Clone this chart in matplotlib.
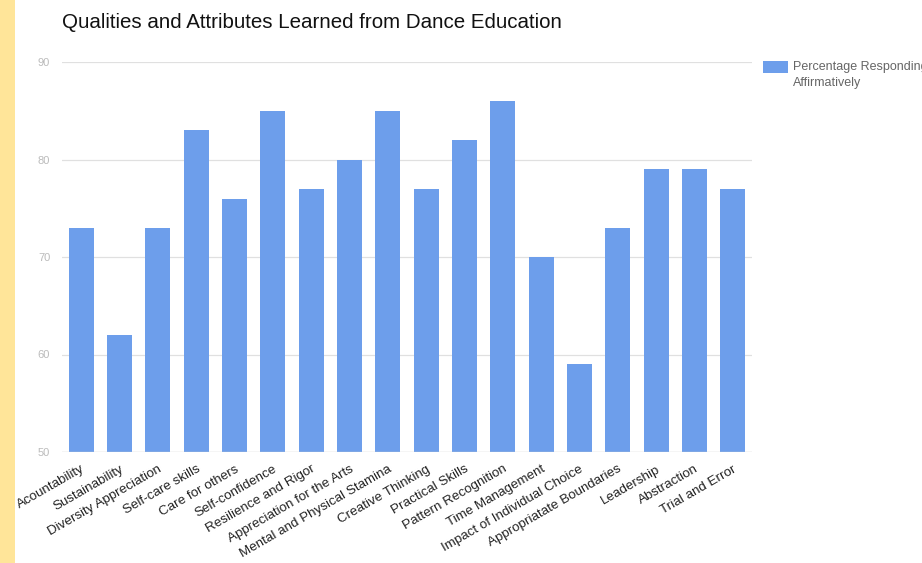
import matplotlib
matplotlib.use("Agg")
import matplotlib.pyplot as plt
from matplotlib.patches import Rectangle

categories = ["Acountability", "Sustainability", "Diversity Appreciation", "Self-care skills",
              "Care for others", "Self-confidence", "Resilience and Rigor",
              "Appreciation for the Arts", "Mental and Physical Stamina", "Creative Thinking",
              "Practical Skills", "Pattern Recognition", "Time Management",
              "Impact of Individual Choice", "Appropriatate Boundaries", "Leadership",
              "Abstraction", "Trial and Error"]
values = [73, 62, 73, 83, 76, 85, 77, 80, 85, 77, 82, 86, 70, 59, 73, 79, 79, 77]
yticks = [50, 60, 70, 80, 90]
series_name = "Percentage Responding\nAffirmatively"

plt.rcParams['font.family'] = ['Liberation Sans', 'DejaVu Sans']
W, H = 922, 563
fig = plt.figure(figsize=(W/100, H/100), dpi=100)
fig.patches.append(Rectangle((0, 0), 15/W, 1, transform=fig.transFigure,
                             facecolor='#FFE599', edgecolor='none', zorder=0))

ax = fig.add_axes([62/W, 1-452/H, 690/W, 390/H])
x = list(range(len(categories)))
ax.bar(x, values, width=0.65, color='#6D9EEB', zorder=3, label=series_name)
ax.set_xlim(-0.5, len(categories)-0.5)
ax.set_ylim(50, 90)
ax.set_yticks(yticks)
ax.set_yticklabels([str(v) for v in yticks], color='#BBBBBB', fontsize=8)
for v in yticks[1:]:
    ax.axhline(v, color='#E0E0E0', lw=0.9, zorder=1)
ax.axhline(50, color='#CCCCCC', lw=1.0, zorder=4)
for s in ax.spines.values():
    s.set_visible(False)
ax.tick_params(axis='both', length=0)
ax.tick_params(axis='y', pad=8.5)
ax.set_xticks(x)
ax.set_xticklabels(categories, rotation=30, ha='right', rotation_mode='anchor',
                   fontsize=9.6, color='#222222')
ax.tick_params(axis='x', pad=8)

fig.text(62/W, 1-22/H, "Qualities and Attributes Learned from Dance Education",
         fontsize=14.8, color='#111111', va='center', ha='left')

fig.patches.append(Rectangle((763/W, 1-73/H), 25/W, 12/H, transform=fig.transFigure,
                             facecolor='#6D9EEB', edgecolor='none'))
fig.text(793/W, 1-61/H, series_name, fontsize=9.0, color='#666666', va='top', ha='left',
         linespacing=1.45)

fig.savefig("out.png", dpi=100)
